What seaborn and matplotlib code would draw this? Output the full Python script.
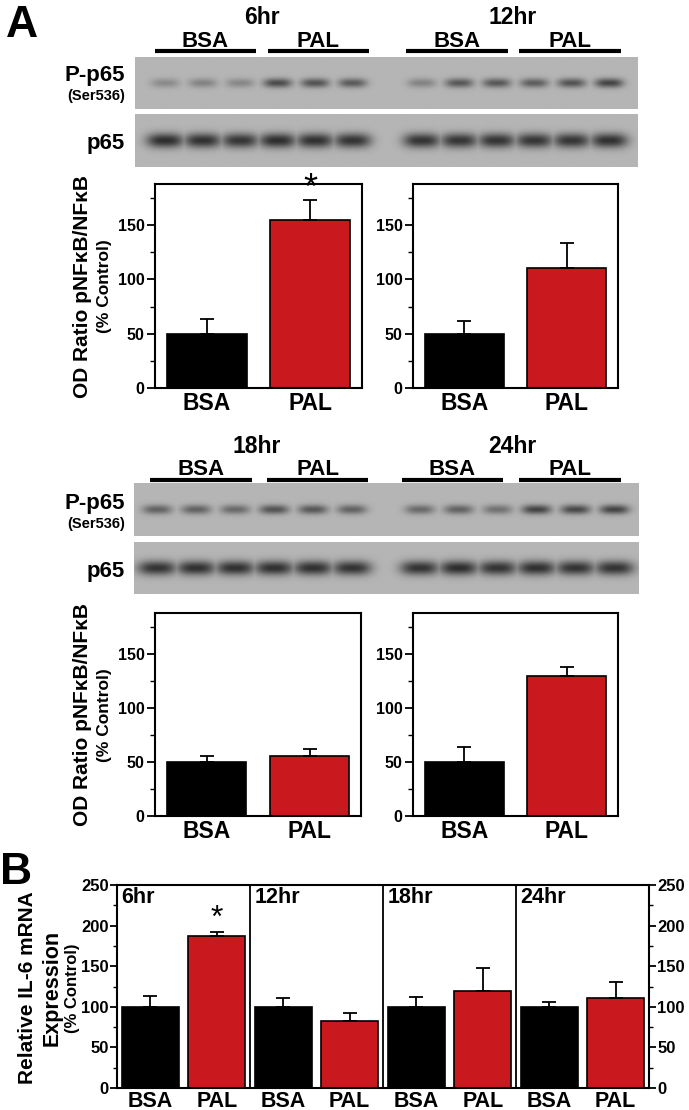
import numpy as np
import pandas as pd
import matplotlib
matplotlib.use("Agg")
import matplotlib.pyplot as plt
from matplotlib.ticker import MultipleLocator
import seaborn as sns

sns.set_theme(style="ticks")
plt.rcParams["font.family"] = ["Liberation Sans", "DejaVu Sans"]
plt.rcParams["font.weight"] = "bold"
for key in ["text.color", "axes.labelcolor", "xtick.color", "ytick.color", "axes.edgecolor"]:
    plt.rcParams[key] = "black"

W, H = 689, 1110
BLACK = "#000000"
RED = "#c9191f"

# ---- data: panel A densitometry (% control) ----
groups = ["BSA", "PAL"]
od_6hr = [50, 155]
od_6hr_err = [14, 18]
od_12hr = [50, 111]
od_12hr_err = [12, 23]
od_18hr = [50, 56]
od_18hr_err = [6, 6]
od_24hr = [50, 130]
od_24hr_err = [14, 8]

# ---- data: panel B IL-6 mRNA (% control) ----
il6_times = ["6hr", "12hr", "18hr", "24hr"]
il6_mean = [100, 187, 100, 82.5, 100, 120, 100, 111]
il6_err = [13, 5, 11, 9.5, 12, 28, 6, 20]

# ---- data: blot band darkness (0 = none, 1 = black), 6 lanes per time point ----
pp65_6_12 = [0.28, 0.33, 0.30, 0.70, 0.65, 0.60, 0.33, 0.62, 0.62, 0.58, 0.65, 0.75]
p65_6_12 = [0.90, 0.88, 0.85, 0.90, 0.88, 0.86, 0.86, 0.85, 0.86, 0.85, 0.85, 0.88]
pp65_18_24 = [0.55, 0.55, 0.50, 0.65, 0.62, 0.55, 0.50, 0.55, 0.45, 0.75, 0.72, 0.75]
p65_18_24 = [0.86, 0.88, 0.88, 0.88, 0.88, 0.86, 0.86, 0.90, 0.86, 0.88, 0.86, 0.86]

fig = plt.figure(figsize=(W / 100, H / 100), dpi=100)


def px_axes(x0, y0, x1, y1):
    return fig.add_axes([x0 / W, 1 - y1 / H, (x1 - x0) / W, (y1 - y0) / H])


def draw_blot(rect, gap, xlim, dark, half_w, half_h):
    ax = px_axes(*rect)
    lanes = np.r_[np.arange(6), gap + np.arange(6)]
    xs = np.linspace(xlim[0], xlim[1], 700)
    ys = np.linspace(0, 1, 90)
    X, Y = np.meshgrid(xs, ys)
    band = np.zeros_like(X)
    for xc, d in zip(lanes, dark):
        shape = np.exp(-np.abs((X - xc) / half_w) ** 3) * np.exp(-((Y - 0.5) / half_h) ** 2)
        band = np.maximum(band, d * shape)
    bg = 0.71
    img = bg - (bg - 0.12) * band
    ax.imshow(img, cmap="gray", vmin=0, vmax=1, aspect="auto",
              extent=(xlim[0], xlim[1], 1, 0), interpolation="bilinear")
    ax.set_axis_off()


def style_box(ax, lw=1.5):
    for s in ax.spines.values():
        s.set_visible(True)
        s.set_color("black")
        s.set_linewidth(lw)


def od_panel(rect, means, errs):
    ax = px_axes(*rect)
    df = pd.DataFrame({"group": groups, "value": means})
    sns.barplot(data=df, x="group", y="value", hue="group",
                palette={"BSA": BLACK, "PAL": RED}, saturation=1, width=0.77,
                edgecolor="black", linewidth=1.2, errorbar=None, legend=False, ax=ax)
    ax.errorbar([0, 1], means, yerr=[np.zeros(2), errs], fmt="none",
                ecolor="black", elinewidth=1.3, capsize=5, capthick=1.3, zorder=1)
    ax.set_ylim(0, 188)
    ax.set_xlim(-0.5, 1.5)
    ax.yaxis.set_major_locator(MultipleLocator(50))
    ax.yaxis.set_minor_locator(MultipleLocator(25))
    ax.tick_params(axis="y", which="major", length=6, width=1.3, labelsize=11.5, pad=1.5)
    ax.tick_params(axis="y", which="minor", length=3.5, width=1.0)
    ax.tick_params(axis="x", length=0, labelsize=16.5, pad=3)
    ax.set_xlabel("")
    ax.set_ylabel("")
    style_box(ax)
    return ax


# ---- overlay for labels and brackets (pixel coordinates) ----
ov = fig.add_axes([0, 0, 1, 1])
ov.set_xlim(0, W)
ov.set_ylim(H, 0)
ov.axis("off")

ov.text(6, 37, "A", fontsize=32, ha="left", va="baseline")
ov.text(0, 884, "B", fontsize=32, ha="left", va="baseline")

# time point headers and BSA/PAL brackets above the blots
headers = [("6hr", 262, 24, 155, 256, 268, 369, 47, 50.5),
           ("12hr", 513, 24, 406, 508, 519, 621, 47, 50.5),
           ("18hr", 257, 453, 150, 252, 267, 368, 475, 479.5),
           ("24hr", 512, 453, 402, 503, 519, 621, 475, 479.5)]
for name, cx, ty, b0, b1, p0, p1, gy, ly in headers:
    ov.text(cx, ty, name, fontsize=16.5, ha="center", va="baseline")
    ov.text((b0 + b1) / 2, gy, "BSA", fontsize=16, ha="center", va="baseline")
    ov.text((p0 + p1) / 2, gy, "PAL", fontsize=16, ha="center", va="baseline")
    ov.plot([b0, b1], [ly, ly], color="black", lw=3, solid_capstyle="butt")
    ov.plot([p0, p1], [ly, ly], color="black", lw=3, solid_capstyle="butt")

for base in (0, 428):
    ov.text(125, 81 + base, "P-p65", fontsize=16, ha="right", va="baseline")
    ov.text(125, 100 + base, "(Ser536)", fontsize=10.5, ha="right", va="baseline")
    ov.text(125, 149 + base, "p65", fontsize=16, ha="right", va="baseline")

for cy in (286, 715):
    ov.text(82, cy, "OD Ratio pNF\u03baB/NF\u03baB", fontsize=15, rotation=90, ha="center", va="center")
    ov.text(104, cy, "(% Control)", fontsize=12.5, rotation=90, ha="center", va="center")

ov.text(28, 988, "Relative IL-6 mRNA", fontsize=15, rotation=90, ha="center", va="center")
ov.text(52, 988, "Expression", fontsize=15.5, rotation=90, ha="center", va="center")
ov.text(73, 988, "(% Control)", fontsize=12, rotation=90, ha="center", va="center")

# ---- western blots ----
draw_blot((135, 57, 638, 109), 6.85, (-0.8, 12.61), pp65_6_12, 0.38, 0.09)
draw_blot((135, 114, 638, 167), 6.85, (-0.8, 12.61), p65_6_12, 0.5, 0.14)
draw_blot((134, 483, 639, 536), 6.74, (-0.59, 12.36), pp65_18_24, 0.38, 0.09)
draw_blot((134, 542, 639, 594), 6.74, (-0.59, 12.36), p65_18_24, 0.5, 0.14)

# ---- panel A bar charts ----
ax6 = od_panel((155, 184, 362, 388), od_6hr, od_6hr_err)
ax12 = od_panel((413, 184, 618, 388), od_12hr, od_12hr_err)
ax18 = od_panel((155, 613, 361, 816), od_18hr, od_18hr_err)
ax24 = od_panel((413, 613, 618, 816), od_24hr, od_24hr_err)
ax6.text(1, od_6hr[1] + od_6hr_err[1] - 6, "*", fontsize=26, fontweight="normal", ha="center", va="bottom")

# ---- panel B ----
axb = px_axes(117, 885, 649, 1088)
slots = [f"{t} {g}" for t in il6_times for g in groups]
dfb = pd.DataFrame({"slot": slots, "group": groups * len(il6_times), "value": il6_mean})
sns.barplot(data=dfb, x="slot", y="value", hue="group", dodge=False,
            palette={"BSA": BLACK, "PAL": RED}, saturation=1, width=0.86,
            edgecolor="black", linewidth=1.2, errorbar=None, legend=False, ax=axb)
axb.errorbar(np.arange(len(slots)), il6_mean, yerr=[np.zeros(len(slots)), il6_err],
             fmt="none", ecolor="black", elinewidth=1.3, capsize=5, capthick=1.3, zorder=1)
axb.set_ylim(0, 250)
axb.set_xlim(-0.5, len(slots) - 0.5)
for i in range(1, len(il6_times)):
    axb.axvline(2 * i - 0.5, color="black", lw=1.3)
for i, t in enumerate(il6_times):
    axb.text(2 * i - 0.43, 248, t, fontsize=15.5, ha="left", va="top")
axb.text(1, il6_mean[1] + il6_err[1] - 2, "*", fontsize=23, fontweight="normal", ha="center", va="bottom")
axb.set_xticks(np.arange(len(slots)))
axb.set_xticklabels(groups * len(il6_times))
axb.yaxis.set_major_locator(MultipleLocator(50))
axb.yaxis.set_minor_locator(MultipleLocator(25))
axb.tick_params(axis="y", which="both", left=True, right=True, labelleft=True, labelright=True)
axb.tick_params(axis="y", which="major", length=5, width=1.3, labelsize=12, pad=1)
axb.tick_params(axis="y", which="minor", length=3, width=1.0)
axb.tick_params(axis="x", length=0, labelsize=15.5, pad=2)
axb.set_xlabel("")
axb.set_ylabel("")
style_box(axb)

fig.savefig("out.png", dpi=100)
